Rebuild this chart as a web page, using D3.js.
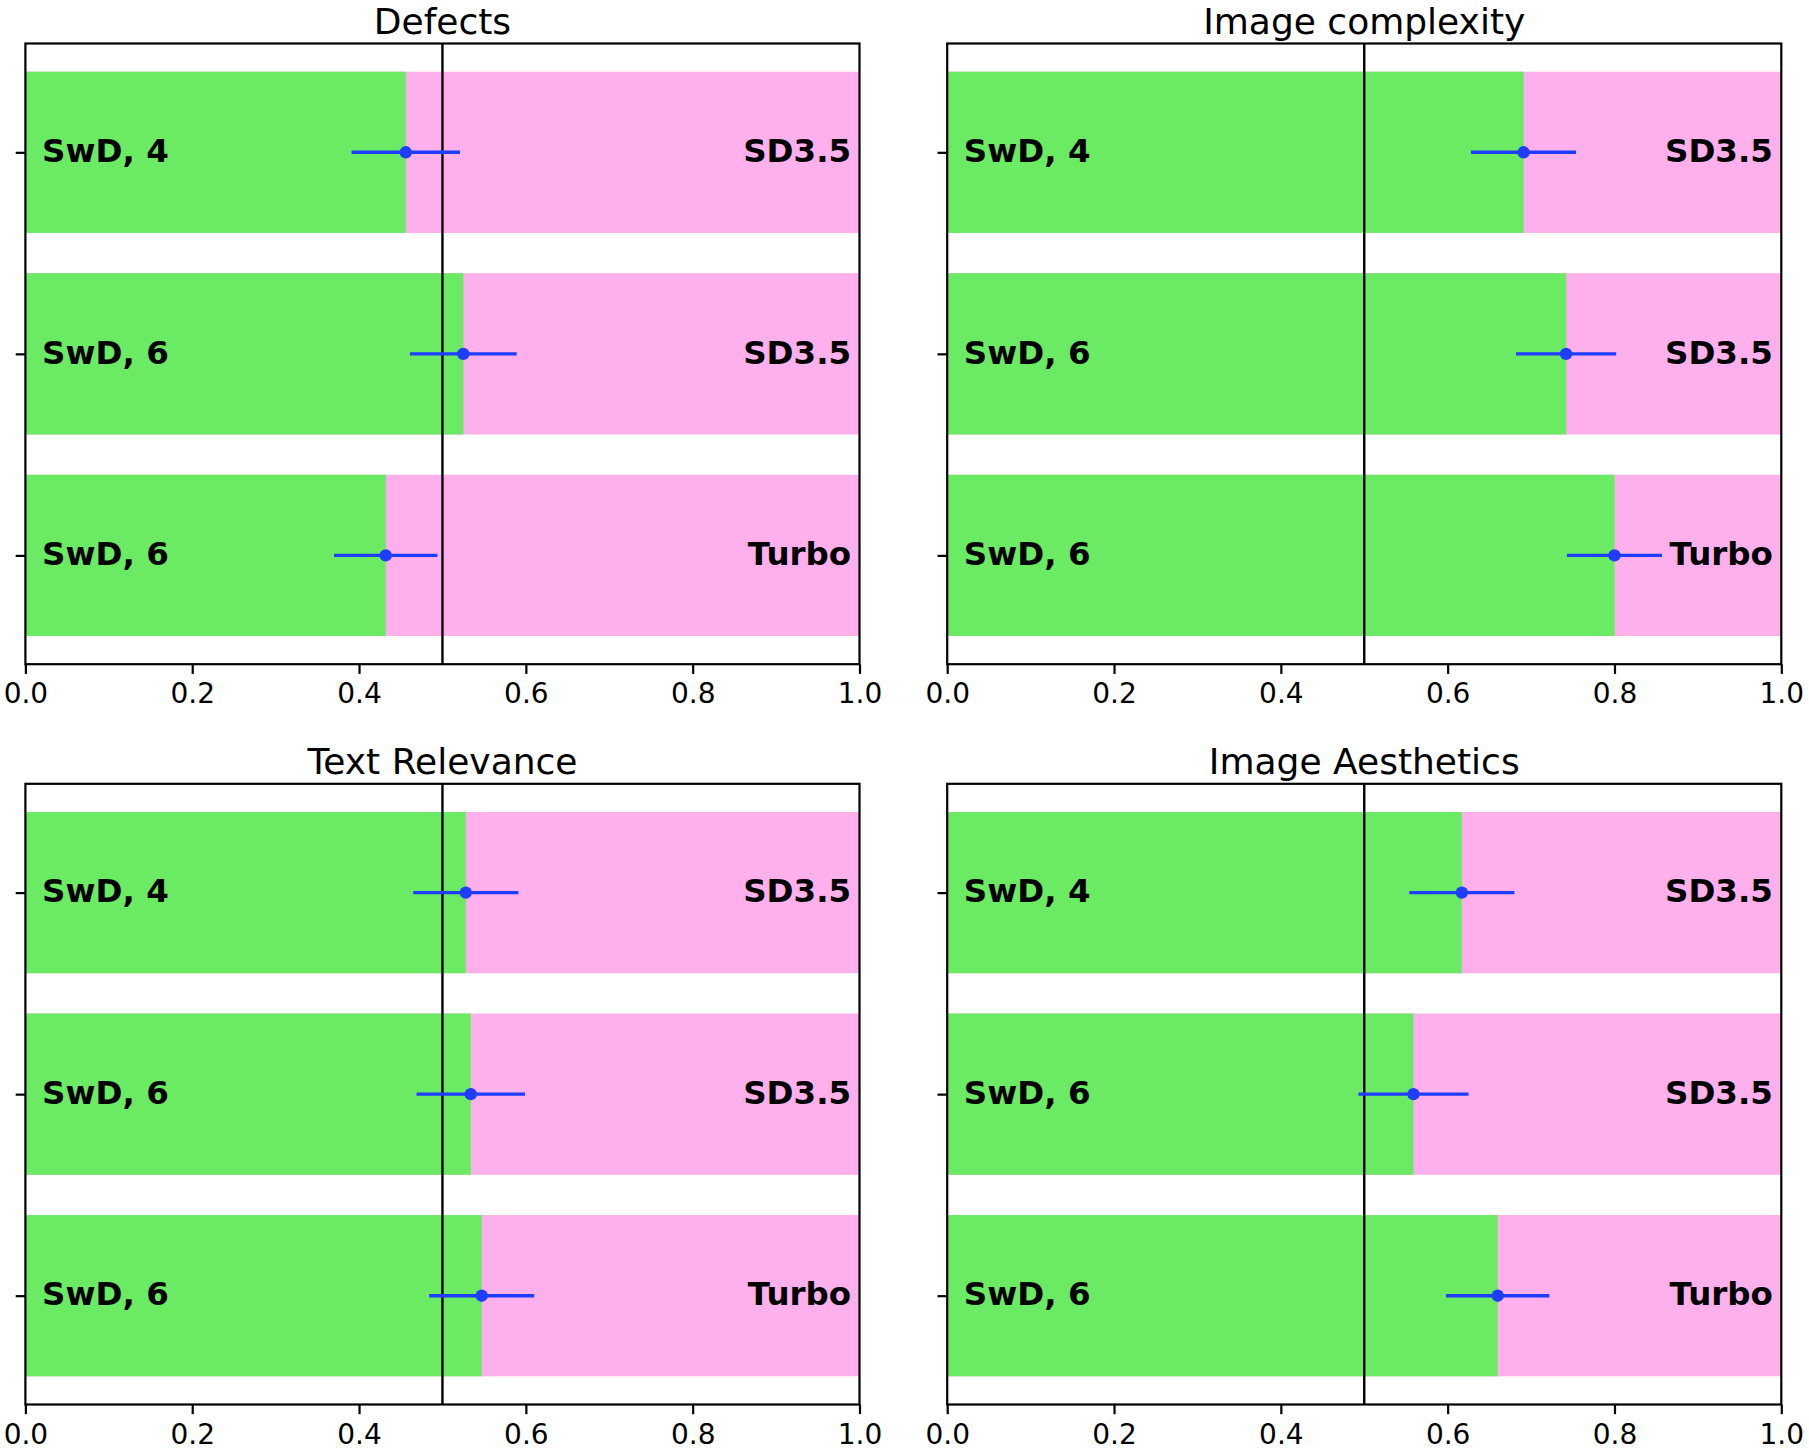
<!DOCTYPE html>
<html>
<head>
  <script src="https://d3js.org/d3.v7.min.js"></script>
  <style>
    body { margin: 0; background: #fff; }
    text { font-family: "DejaVu Sans", sans-serif; }
  </style>
</head>
<body>
  <script>
    // Panel titles and row labels
    const panelTitles = ["Defects", "Image complexity", "Text Relevance", "Image Aesthetics"];
    const leftLabels = ["SwD, 4", "SwD, 6", "SwD, 6"];
    const rightLabels = ["SD3.5", "SD3.5", "Turbo"];
    const xTicks = [0.0, 0.2, 0.4, 0.6, 0.8, 1.0];

    // Win rates (green share) and error half-widths, one pair per panel
    const defects = [0.456, 0.525, 0.432];
    const defectsErr = [0.065, 0.064, 0.062];
    const complexity = [0.691, 0.742, 0.800];
    const complexityErr = [0.063, 0.060, 0.057];
    const relevance = [0.528, 0.534, 0.547];
    const relevanceErr = [0.063, 0.065, 0.063];
    const aesthetics = [0.617, 0.559, 0.660];
    const aestheticsErr = [0.063, 0.066, 0.062];

    const panelValues = [defects, complexity, relevance, aesthetics];
    const panelErrors = [defectsErr, complexityErr, relevanceErr, aestheticsErr];

    const W = 1809, H = 1453;
    const panelW = 834.1, panelH = 620.7;
    const panelX = [25.4, 947.2];
    const panelY = [43.5, 783.8];

    const green = "#6aeb63", pink = "#fdb0ec", blue = "#1f3dff";

    const svg = d3.select("body")
      .append("svg")
        .attr("width", W)
        .attr("height", H);

    const x = d3.scaleLinear().domain([0, 1]).range([0, panelW]);
    const y = d3.scaleLinear().domain([-0.54, 2.54]).range([0, panelH]);
    const barH = y(0.4) - y(-0.4);

    panelTitles.forEach((title, p) => {
      const g = svg.append("g")
        .attr("transform", `translate(${panelX[p % 2]},${panelY[Math.floor(p / 2)]})`);
      const vals = panelValues[p], errs = panelErrors[p];
      const rows = d3.range(vals.length);

      // pink background bar, then green share on top
      g.selectAll(".pink").data(rows).join("rect")
        .attr("x", x(0)).attr("width", x(1) - x(0))
        .attr("y", i => y(i - 0.4)).attr("height", barH)
        .attr("fill", pink);
      g.selectAll(".green").data(rows).join("rect")
        .attr("x", x(0)).attr("width", i => x(vals[i]) - x(0))
        .attr("y", i => y(i - 0.4)).attr("height", barH)
        .attr("fill", green);

      // 0.5 reference line
      g.append("line")
        .attr("x1", x(0.5)).attr("x2", x(0.5))
        .attr("y1", 0).attr("y2", panelH)
        .attr("stroke", "#000").attr("stroke-width", 2.4);

      // error bars
      g.selectAll(".err").data(rows).join("line")
        .attr("x1", i => x(vals[i] - errs[i]))
        .attr("x2", i => x(vals[i] + errs[i]))
        .attr("y1", i => y(i)).attr("y2", i => y(i))
        .attr("stroke", blue).attr("stroke-width", 3.4);
      g.selectAll(".pt").data(rows).join("circle")
        .attr("cx", i => x(vals[i])).attr("cy", i => y(i))
        .attr("r", 6.2).attr("fill", blue);

      // row labels
      g.selectAll(".lab-l").data(rows).join("text")
        .attr("x", x(0.02)).attr("y", i => y(i))
        .attr("dy", "0.3em")
        .attr("font-size", 32.5).attr("font-weight", "bold")
        .text(i => leftLabels[i]);
      g.selectAll(".lab-r").data(rows).join("text")
        .attr("x", x(0.99)).attr("y", i => y(i))
        .attr("dy", "0.3em")
        .attr("text-anchor", "end")
        .attr("font-size", 32.5).attr("font-weight", "bold")
        .text(i => rightLabels[i]);

      // axes
      const xa = g.append("g")
        .attr("transform", `translate(0,${panelH})`)
        .call(d3.axisBottom(x).tickValues(xTicks).tickFormat(d3.format(".1f"))
          .tickSize(9.7).tickPadding(9.7));
      const ya = g.append("g")
        .call(d3.axisLeft(y).tickValues(rows).tickFormat("").tickSize(9.7));
      [xa, ya].forEach(a => {
        a.select(".domain").remove();
        a.selectAll(".tick line").attr("stroke", "#000").attr("stroke-width", 2.2);
        a.selectAll("text").attr("font-size", 28).attr("fill", "#000")
          .attr("font-family", "DejaVu Sans");
      });

      // frame
      g.append("rect")
        .attr("width", panelW).attr("height", panelH)
        .attr("fill", "none").attr("stroke", "#000").attr("stroke-width", 2.2);

      // title
      g.append("text")
        .attr("x", panelW / 2).attr("y", -9.5)
        .attr("text-anchor", "middle")
        .attr("font-size", 36)
        .text(title);
    });
  </script>
</body>
</html>
